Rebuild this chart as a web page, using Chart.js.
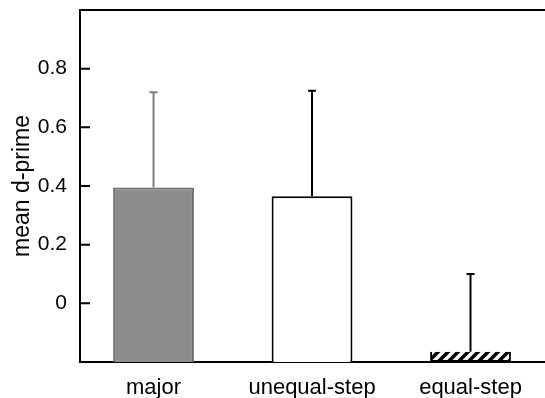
<!DOCTYPE html>
<html>
<head>
<meta charset="utf-8">
<script src="https://cdn.jsdelivr.net/npm/chart.js@4/dist/chart.umd.min.js"></script>
<style>
  body { margin: 0; background: #fff; overflow: hidden; }
</style>
</head>
<body>
<canvas id="dprime" width="545" height="398"></canvas>
<script>
// values
const categories = ['major', 'unequal-step', 'equal-step'];
const meanDprime = [0.395, 0.365, -0.165];
const errorTop = [0.72, 0.725, 0.10];
const yTickValues = [0, 0.2, 0.4, 0.6, 0.8];
const yMin = -0.2;
const yMax = 1.0;

let myChart;

function hatchPattern() {
  let c = document.createElement('canvas');
  c.width = 10;
  c.height = 10;
  let g = c.getContext('2d');
  g.fillStyle = '#fff';
  g.fillRect(0, 0, 10, 10);
  g.strokeStyle = '#000';
  g.lineWidth = 3.5;
  g.beginPath();
  g.moveTo(-5, 15); g.lineTo(15, -5);
  g.moveTo(-5, 5); g.lineTo(5, -5);
  g.moveTo(5, 15); g.lineTo(15, 5);
  g.stroke();
  return g.createPattern(c, 'repeat');
}

// error bars + frame + inward ticks
const extras = {
  id: 'extras',
  afterDatasetsDraw(chart) {
    const ctx = chart.ctx;
    const x = chart.scales.x;
    const y = chart.scales.y;
    const area = chart.chartArea;
    const errColors = ['#7d7d7d', '#000', '#000'];
    ctx.save();
    for (i = 0; i < categories.length; i++) {
      let px = x.getPixelForValue(i + 1);
      let y0 = y.getPixelForValue(meanDprime[i]);
      let y1 = y.getPixelForValue(errorTop[i]);
      ctx.strokeStyle = errColors[i];
      ctx.lineWidth = 2;
      ctx.beginPath();
      ctx.moveTo(px, y0);
      ctx.lineTo(px, y1);
      ctx.moveTo(px - 4, y1);
      ctx.lineTo(px + 4, y1);
      ctx.stroke();
    }
    ctx.strokeStyle = '#000';
    ctx.lineWidth = 2;
    ctx.beginPath();
    ctx.moveTo(area.left - 1, area.top);
    ctx.lineTo(chart.width, area.top);
    yTickValues.forEach(function (v) {
      let py = y.getPixelForValue(v);
      ctx.moveTo(area.left, py);
      ctx.lineTo(area.left + 10, py);
    });
    ctx.stroke();
    ctx.restore();
  }
};

let i;

function setGraph() {
  const ctx = document.getElementById('dprime');
  myChart = new Chart(ctx, {
    type: 'bar',
    data: {
      datasets: [{
        data: categories.map(function (c, k) { return { x: k + 1, y: [yMin, meanDprime[k]] }; }),
        backgroundColor: ['#8c8c8c', '#ffffff', hatchPattern()],
        borderColor: ['#6e6e6e', '#000000', '#000000'],
        borderWidth: 2,
        borderSkipped: 'bottom',
        barPercentage: 0.51,
        categoryPercentage: 1
      }]
    },
    options: {
      responsive: false,
      animation: false,
      layout: { padding: { top: 10, right: 0, left: 0, bottom: 0 } },
      plugins: { legend: { display: false }, tooltip: { enabled: false } },
      scales: {
        x: {
          type: 'linear',
          offset: false,
          min: 0.536,
          max: 3.47,
          afterBuildTicks: function (s) { s.ticks = categories.map(function (c, k) { return { value: k + 1 }; }); },
          afterFit: function (s) { s.height = 36; s.paddingLeft = 0; s.paddingRight = 0; },
          grid: { display: false, drawTicks: false },
          border: { display: true, color: '#000', width: 2 },
          ticks: {
            padding: 13,
            maxRotation: 0,
            autoSkip: false,
            color: '#000',
            font: { family: 'Liberation Sans, Arial, sans-serif', size: 22 },
            callback: function (v) { return categories[Math.round(v) - 1]; }
          }
        },
        y: {
          min: yMin,
          max: yMax,
          afterFit: function (s) { s.width = 80; s.paddingTop = 0; s.paddingBottom = 0; },
          grid: { display: false, drawTicks: false },
          border: { display: true, color: '#000', width: 2 },
          ticks: {
            stepSize: 0.2,
            padding: 13,
            color: '#000',
            font: { family: 'Liberation Sans, Arial, sans-serif', size: 21 },
            callback: function (v) {
              if (v < -0.1 || v > 0.9) return '';
              if (Math.abs(v) < 1e-9) return '0';
              return v.toFixed(1);
            }
          },
          title: {
            display: true,
            text: 'mean d-prime',
            color: '#000',
            padding: { top: 9, bottom: 0 },
            font: { family: 'Liberation Sans, Arial, sans-serif', size: 23 }
          }
        }
      }
    },
    plugins: [extras]
  });
}

setGraph();
</script>
</body>
</html>
